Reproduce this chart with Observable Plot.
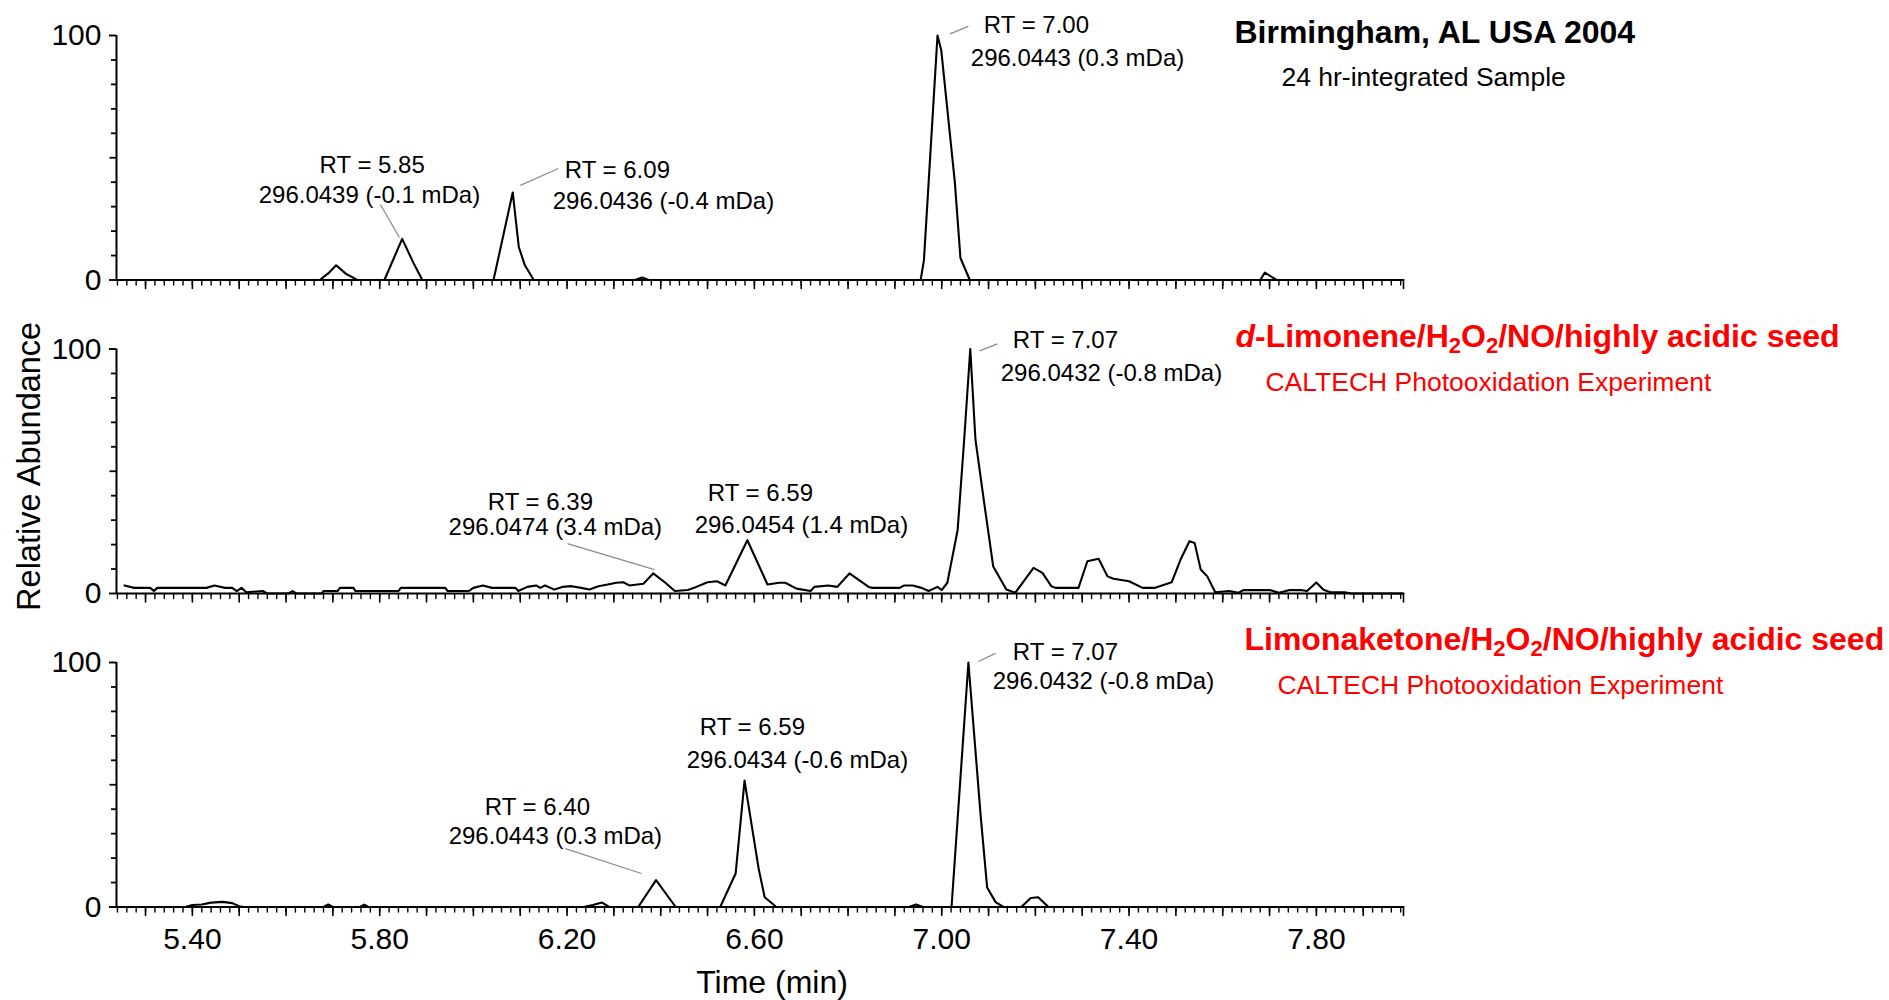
<!DOCTYPE html>
<html><head><meta charset="utf-8">
<script src="https://cdn.jsdelivr.net/npm/d3@7"></script>
<script src="https://cdn.jsdelivr.net/npm/@observablehq/plot@0.6"></script>
<style>body{margin:0;background:#fff;} #chart svg{display:block;}</style>
</head><body><div id="chart"></div>
<script>
// ---------- data ----------
const panels = ["A", "B", "C"];
const timeDomain = [5.238, 7.986];
const abundanceDomain = [0, 100];

// [time (min), relative abundance]
const traceBirmingham = [
  [5.238,0],[5.672,0],[5.69,2.7],[5.707,6],[5.728,2.5],[5.743,1],[5.752,0],
  [5.81,0],[5.848,16.8],[5.872,7],[5.891,0],
  [6.043,0],[6.084,35.8],[6.097,13.5],[6.11,6],[6.129,0],
  [6.345,0],[6.36,1],[6.375,0],
  [6.955,0],[6.962,8],[6.991,100],[6.999,94],[7.028,40],[7.04,9],[7.06,0],
  [7.68,0],[7.69,3],[7.715,0],[7.986,0]
];
const traceLimonene = [
  [5.255,3.3],[5.276,2.3],[5.31,2.3],[5.318,1],[5.325,2.3],[5.43,2.3],[5.447,3.3],[5.47,2.3],
  [5.485,2.3],[5.495,1],[5.505,2.3],[5.515,0.5],[5.55,1],[5.56,0],[5.605,0],[5.614,1],[5.622,0],
  [5.676,0],[5.68,1],[5.71,1],[5.715,2.3],[5.744,2.3],[5.748,1],[5.84,1],[5.845,2.3],[5.94,2.3],
  [5.945,1],[5.99,1],[6.0,2.3],[6.02,3.3],[6.04,2.3],[6.09,2.3],[6.096,1],[6.115,2.7],[6.134,3.3],
  [6.143,2.3],[6.153,3.3],[6.173,1.6],[6.19,2.7],[6.21,3],[6.23,2.3],[6.248,1.6],[6.267,3],
  [6.287,3.7],[6.305,4.4],[6.32,4.6],[6.333,3.3],[6.363,4],[6.384,8.2],[6.41,4.4],[6.43,1],
  [6.458,1.4],[6.476,2.7],[6.5,4.6],[6.52,5],[6.538,3.3],[6.585,21.8],[6.628,3.7],[6.653,4.4],
  [6.666,4.4],[6.69,2],[6.72,1],[6.728,2.7],[6.758,3.3],[6.777,2.7],[6.803,8.2],[6.844,2.7],
  [6.852,2.3],[6.91,2.3],[6.92,3.3],[6.938,3.3],[6.957,2.3],[6.972,1],[6.991,2.7],[7.0,1.4],
  [7.012,4.4],[7.034,26],[7.048,63],[7.061,100],[7.072,63],[7.09,38],[7.11,11],[7.138,1.6],
  [7.157,0.3],[7.196,10.5],[7.215,8.4],[7.234,3],[7.243,2.3],[7.292,2.3],[7.311,13.2],[7.335,14.2],
  [7.354,7],[7.367,6],[7.4,5],[7.429,2.3],[7.454,2.3],[7.491,4.6],[7.51,13.9],[7.529,21.4],
  [7.54,20.7],[7.553,9.8],[7.567,7],[7.584,0.5],[7.614,1],[7.634,0.3],[7.644,1.4],[7.7,1.4],
  [7.72,0.3],[7.743,1.4],[7.766,1.4],[7.78,1],[7.8,4.5],[7.815,1.5],[7.83,0.5],[7.86,0.5],
  [7.875,0],[7.986,0]
];
const traceLimonaketone = [
  [5.238,0],[5.385,0],[5.4,0.8],[5.42,1],[5.44,1.8],[5.465,2.1],[5.485,1.6],[5.5,0.3],[5.51,0],
  [5.68,0],[5.69,1],[5.7,0],[5.758,0],[5.767,1],[5.776,0],
  [6.235,0],[6.255,0.8],[6.275,1.8],[6.29,0],
  [6.352,0],[6.39,11],[6.432,0],
  [6.527,0],[6.56,13.7],[6.579,51.7],[6.609,15.8],[6.622,4],[6.647,0],
  [6.93,0],[6.945,1],[6.96,0],
  [7.021,0],[7.057,100],[7.083,37.7],[7.097,8],[7.115,2],[7.132,0],
  [7.17,0],[7.19,3.7],[7.206,4],[7.228,0],[7.986,0]
];

// peak annotations: [panel, time, abundance, text]
const peakLabels = [
  ["A",5.784,46.8,"RT = 5.85"],["A",5.778,34.6,"296.0439 (-0.1 mDa)"],
  ["A",6.3075,44.8,"RT = 6.09"],["A",6.4058,32.1,"296.0436 (-0.4 mDa)"],
  ["A",7.2023,104.1,"RT = 7.00"],["A",7.290,90.6,"296.0443 (0.3 mDa)"],
  ["B",6.1431,37.2,"RT = 6.39"],["B",6.175,27.0,"296.0474 (3.4 mDa)"],
  ["B",6.6129,40.9,"RT = 6.59"],["B",6.7004,27.8,"296.0454 (1.4 mDa)"],
  ["B",7.2642,103.5,"RT = 7.07"],["B",7.3624,90.0,"296.0432 (-0.8 mDa)"],
  ["C",6.1367,40.7,"RT = 6.40"],["C",6.1751,28.8,"296.0443 (0.3 mDa)"],
  ["C",6.5958,73.4,"RT = 6.59"],["C",6.6919,60.0,"296.0434 (-0.6 mDa)"],
  ["C",7.2642,104.1,"RT = 7.07"],["C",7.3453,92.2,"296.0432 (-0.8 mDa)"]
];
// leader lines: [panel, t1, v1, t2, v2]
const leaders = [
  ["A",5.8015,30.9,5.842,17.4],["A",6.1815,45.6,6.1004,38.7],["A",7.057,103.7,7.0177,100.7],
  ["B",6.2008,20.4,6.3866,9.8],["B",7.0806,99.2,7.119,102.1],
  ["C",6.1965,23.9,6.3588,13.7],["C",7.0784,100.4,7.1147,103.7]
];
// panel titles: [panel, time, abundance, text, colour]
const panelTitles = [
  ["A",7.625,101.2,"Birmingham, AL USA 2004","black"],
  ["B",7.6272,105.1,"d-Limonene/H2O2/NO/highly acidic seed","red"],
  ["C",7.6464,109.4,"Limonaketone/H2O2/NO/highly acidic seed","red"]
];
const panelSubtitles = [
  ["A",7.7254,82.8,"24 hr-integrated Sample","black"],
  ["B",7.6913,86.3,"CALTECH Photooxidation Experiment","red"],
  ["C",7.7169,90.6,"CALTECH Photooxidation Experiment","red"]
];
const xLabelTicks = [5.4, 5.8, 6.2, 6.6, 7.0, 7.4, 7.8];
const xMajorTicks = d3.range(53, 80).map(d => d / 10).concat([timeDomain[1]]);
const xMinorTicks = d3.range(524, 800, 2).map(d => d / 100);
const yLabelTicks = [0, 100];
const yMidTicks = [50];
const yMinorTicks = [10, 20, 30, 40, 60, 70, 80, 90];
const yAxisTitle = ["B", 52, "Relative Abundance"];   // panel, abundance at centre, text
const xAxisTitle = "Time (min)";

// ---------- chart ----------
const rows = (trace, p) => trace.map(([t, v]) => ({t, v, p}));
const traces = [
  ...rows(traceBirmingham, "A"),
  ...rows(traceLimonene, "B"),
  ...rows(traceLimonaketone, "C")
];
const tickLine = {draw(context, l) { context.moveTo(0, 0); context.lineTo(0, -l); }};
const xTicks = (ticks, len, sw) => Plot.vector(ticks.flatMap(t => panels.map(p => ({t, p}))), {
  x: "t", y: () => 0, fy: "p", length: len, rotate: 180, anchor: "start",
  shape: tickLine, stroke: "black", strokeWidth: sw
});
// y ticks: horizontal rules of zero data length at the axis, extended leftwards by a pixel inset
const yTicks = (ticks, len, sw) => Plot.ruleY(ticks.flatMap(v => panels.map(p => ({v, p}))), {
  y: "v", fy: "p", x1: () => timeDomain[0], x2: () => timeDomain[0],
  insetLeft: -len, insetRight: 0, stroke: "black", strokeWidth: sw
});

const svg = Plot.plot({
  width: 1889,
  height: 1000,
  marginLeft: 116,
  marginRight: 486,
  marginTop: 35,
  marginBottom: 93.5,
  x: {domain: timeDomain, axis: null},
  y: {domain: abundanceDomain, axis: null},
  fy: {domain: panels, paddingInner: 0.2201, paddingOuter: 0, axis: null, round: false},
  style: {fontFamily: "'Liberation Sans', Arial, sans-serif", fontSize: "24px", color: "black", background: "white"},
  marks: [
    xTicks(xMinorTicks, 5, 1.4),
    xTicks(xMajorTicks, 8.5, 1.6),
    yTicks(yMinorTicks, 5, 1.8),
    yTicks(yMidTicks, 6.5, 1.8),
    yTicks(yLabelTicks, 7, 1.9),
    Plot.text(yLabelTicks.flatMap(v => panels.map(p => ({v, p}))), {
      x: () => timeDomain[0], y: "v", fy: "p", text: d => String(d.v),
      textAnchor: "end", dx: -15, fontSize: 30, fill: "black", lineAnchor: "middle"
    }),
    Plot.text(xLabelTicks, {
      x: d => d, y: () => 0, fy: () => "C", text: d3.format(".2f"),
      dy: 20.5, lineAnchor: "top", fontSize: 30, fill: "black"
    }),
    Plot.ruleY([0], {stroke: "black", strokeWidth: 2}),
    Plot.ruleX([timeDomain[0]], {y1: abundanceDomain[0], y2: abundanceDomain[1], stroke: "black", strokeWidth: 2}),
    Plot.line(traces, {x: "t", y: "v", fy: "p", z: "p", stroke: "black", strokeWidth: 2.1, curve: "linear"}),
    Plot.link(leaders, {x1: d => d[1], y1: d => d[2], x2: d => d[3], y2: d => d[4], fy: d => d[0],
                        stroke: "#8c8c8c", strokeWidth: 1.3}),
    Plot.text(peakLabels, {x: d => d[1], y: d => d[2], text: d => d[3], fy: d => d[0],
                           fontSize: 24, fill: "black", lineAnchor: "middle"}),
    Plot.text(panelTitles.filter(d => d[4] === "black"), {x: d => d[1], y: d => d[2], text: d => d[3], fy: d => d[0],
                            fill: "black", textAnchor: "start", fontWeight: "bold", fontSize: 32, lineAnchor: "middle"}),
    Plot.text(panelTitles.filter(d => d[4] === "red"), {x: d => d[1], y: d => d[2], text: d => d[3], fy: d => d[0],
                            fill: "red", textAnchor: "start", fontWeight: "bold", fontSize: 32, lineAnchor: "middle"}),
    Plot.text(panelSubtitles.filter(d => d[4] === "black"), {x: d => d[1], y: d => d[2], text: d => d[3], fy: d => d[0],
                               fill: "black", textAnchor: "start", fontSize: 26.5, lineAnchor: "middle"}),
    Plot.text(panelSubtitles.filter(d => d[4] === "red"), {x: d => d[1], y: d => d[2], text: d => d[3], fy: d => d[0],
                               fill: "red", textAnchor: "start", fontSize: 26.5, lineAnchor: "middle"}),
    Plot.text([yAxisTitle], {x: () => timeDomain[0], y: d => d[1], fy: d => d[0], text: d => d[2],
                             rotate: -90, dx: -87, fontSize: 32.5, lineAnchor: "middle", fill: "black"}),
    Plot.text([xAxisTitle], {text: d => d, fy: () => "C", frameAnchor: "bottom", dx: 12, dy: 76,
                             fontSize: 32, lineAnchor: "middle", fill: "black"})
  ]
});

// subscripts and italics in the experiment titles
d3.select(svg).selectAll("text").each(function () {
  const s = this.textContent;
  if (!s.includes("H2O2") || this.children.length) return;
  const parts = [];
  let rest = s;
  if (s.startsWith("d-")) { parts.push({t: "d", italic: true}); rest = s.slice(1); }
  const [pre, post] = rest.split("H2O2");
  parts.push({t: pre + "H"}, {t: "2", sub: true}, {t: "O"}, {t: "2", sub: true}, {t: post});
  this.textContent = "";
  const sel = d3.select(this);
  let shifted = false;
  for (const p of parts) {
    const ts = sel.append("tspan").text(p.t);
    if (p.italic) ts.attr("font-style", "italic");
    if (p.sub) { ts.attr("font-size", 22); if (!shifted) ts.attr("dy", 6); shifted = true; }
    else if (shifted) { ts.attr("dy", -6); shifted = false; }
  }
});

document.getElementById("chart").appendChild(svg);
</script>
</body></html>
